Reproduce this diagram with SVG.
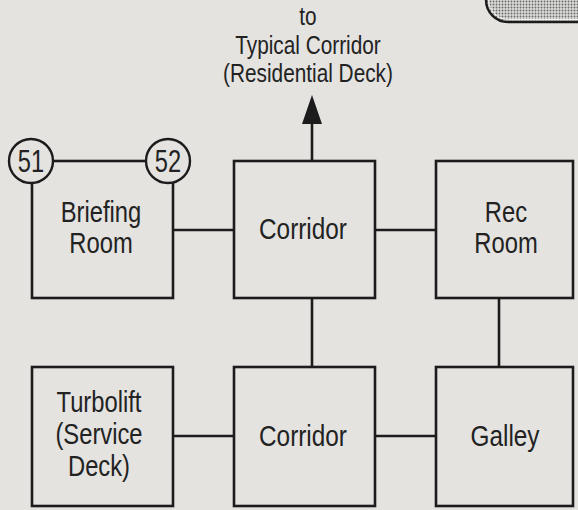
<svg xmlns="http://www.w3.org/2000/svg" width="578" height="510" viewBox="0 0 578 510">
<style>
.box{fill:none;stroke:#1c1c1c;stroke-width:2.6}
.conn{stroke:#1c1c1c;stroke-width:2.6;fill:none}
.circ{fill:#e4e3e0;stroke:#1c1c1c;stroke-width:2.4}
.lbl{font-family:"Liberation Sans",Arial,sans-serif;font-size:29px;fill:#222;text-anchor:middle}
.top{font-family:"Liberation Sans",Arial,sans-serif;font-size:26px;fill:#222;text-anchor:middle}
.num{font-family:"Liberation Sans",Arial,sans-serif;font-size:32px;fill:#222;text-anchor:middle}
</style>
<defs>
<pattern id="dots" width="3" height="3" patternUnits="userSpaceOnUse">
<rect width="3" height="3" fill="#dcdcda"/>
<circle cx="1.5" cy="1.5" r="0.95" fill="#6a6a6a"/>
</pattern>
</defs>
<rect width="578" height="510" fill="#e4e3e0"/>

<g id="top-right-shape">
<rect x="486" y="-60" width="150" height="82" rx="22" fill="url(#dots)" stroke="#1c1c1c" stroke-width="2.4"/>
<rect x="488.5" y="-60" width="150" height="79.5" rx="20" fill="none" stroke="#f2f2f0" stroke-width="1"/>
</g>

<g id="connectors">
<line class="conn" x1="173" y1="230" x2="234" y2="230"/>
<line class="conn" x1="375" y1="230" x2="436" y2="230"/>
<line class="conn" x1="312" y1="298" x2="312" y2="367"/>
<line class="conn" x1="499" y1="298" x2="499" y2="367"/>
<line class="conn" x1="173" y1="436" x2="234" y2="436"/>
<line class="conn" x1="375" y1="436" x2="436" y2="436"/>
<line class="conn" x1="312" y1="161" x2="312" y2="118"/>
<polygon points="312,95 302,124 322,124" fill="#1c1c1c"/>
</g>

<g id="to-typical-corridor">
<text class="top" transform="translate(308,0) scale(0.8,1)"><tspan x="0" y="25">to</tspan><tspan x="0" y="54">Typical Corridor</tspan><tspan x="0" y="82">(Residential Deck)</tspan></text>
</g>

<g id="briefing-room">
<rect class="box" x="32" y="161" width="141" height="137"/>
<text class="lbl" transform="translate(101,0) scale(0.82,1)"><tspan x="0" y="222">Briefing</tspan><tspan x="0" y="253">Room</tspan></text>
</g>

<g id="marker-51">
<circle class="circ" cx="31" cy="161" r="22"/>
<text class="num" transform="translate(31,0) scale(0.74,1)" x="0" y="172.5">51</text>
</g>

<g id="marker-52">
<circle class="circ" cx="168" cy="161" r="22"/>
<text class="num" transform="translate(168,0) scale(0.74,1)" x="0" y="172.5">52</text>
</g>

<g id="corridor-upper">
<rect class="box" x="234" y="161" width="141" height="137"/>
<text class="lbl" transform="translate(303,0) scale(0.84,1)" x="0" y="239">Corridor</text>
</g>

<g id="rec-room">
<rect class="box" x="436" y="161" width="137" height="137"/>
<text class="lbl" transform="translate(506,0) scale(0.82,1)"><tspan x="0" y="222">Rec</tspan><tspan x="0" y="253">Room</tspan></text>
</g>

<g id="turbolift">
<rect class="box" x="32" y="367" width="141" height="139"/>
<text class="lbl" transform="translate(99,0) scale(0.82,1)"><tspan x="0" y="412">Turbolift</tspan><tspan x="0" y="444">(Service</tspan><tspan x="0" y="476">Deck)</tspan></text>
</g>

<g id="corridor-lower">
<rect class="box" x="234" y="367" width="141" height="139"/>
<text class="lbl" transform="translate(303,0) scale(0.84,1)" x="0" y="446">Corridor</text>
</g>

<g id="galley">
<rect class="box" x="436" y="367" width="137" height="139"/>
<text class="lbl" transform="translate(505,0) scale(0.84,1)" x="0" y="446">Galley</text>
</g>
</svg>
